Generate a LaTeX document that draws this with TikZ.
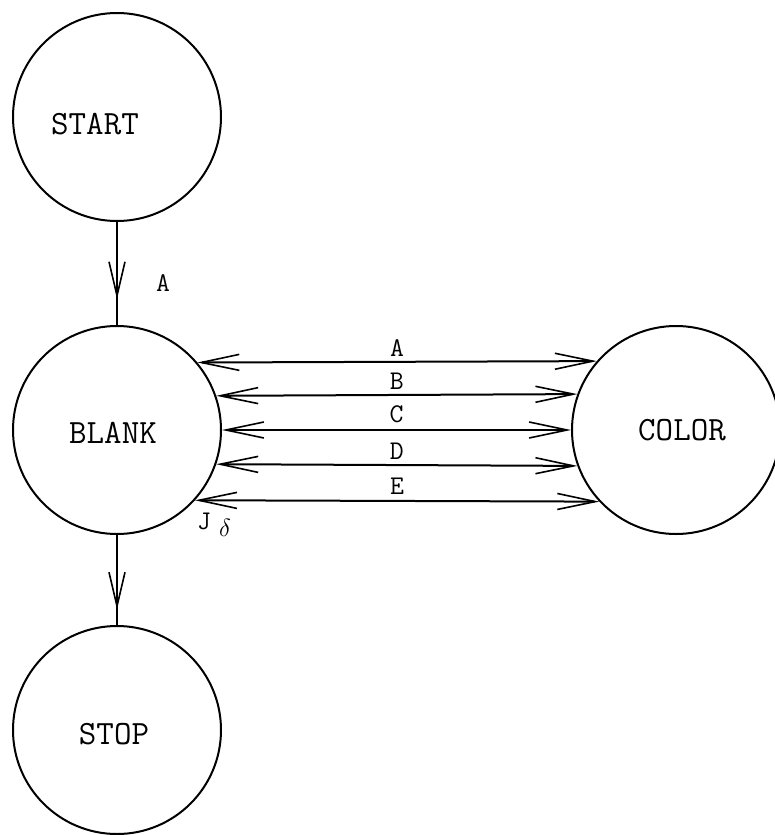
\documentclass[tikz,border=0pt]{standalone}
\usepackage{fontspec}
\usetikzlibrary{arrows.meta,decorations.markings}
\tikzset{
  state/.style={circle,draw,line width=2pt,minimum size=208pt,inner sep=0pt},
  stname/.style={font=\ttfamily\fontsize{34}{35}\selectfont,inner sep=0pt},
  lbl/.style={font=\ttfamily\fontsize{27}{28}\selectfont,inner sep=0pt},
  barb/.tip={Straight Barb[length=38pt,width=16pt,line width=1.6pt]},
  conn/.style={line width=2pt},
  dbl/.style={conn,barb-barb},
  midarrow/.style={conn,postaction={decorate},
    decoration={markings,mark=at position #1 with {\arrow{Straight Barb[length=34pt,width=16pt,line width=1.6pt]}}}}
}
\begin{document}
\begin{tikzpicture}[x=1pt,y=-1pt]
\useasboundingbox (0,0) rectangle (775,835);
\node[state] (start) at (117,117) {};
\node[state] (blank) at (117,430) {};
\node[state] (stop) at (117,730) {};
\node[state] (color) at (676,430) {};
\node[stname] (tstart) at (95,124) {START};
\node[stname] (tblank) at (113,433) {BLANK};
\node[stname] (tstop) at (114,734) {STOP};
\node[stname] (tcolor) at (682,430) {COLOR};
\draw[midarrow=0.75] (start.south) -- (blank.north);
\node[lbl] (la) at (163,283) {A};
\draw[midarrow=0.83] (blank.south) -- (stop.north);
\draw[dbl] (blank.40.8) -- node[lbl,above=4pt] (l1) {A} (color.139.2);
\draw[dbl] (blank.19.1) -- node[lbl,above=4pt] (l2) {B} (color.160.9);
\draw[dbl] (blank.0) -- node[lbl,above=6pt] (l3) {C} (color.180);
\draw[dbl] (blank.-19.7) -- node[lbl,above=5pt] (l4) {D} (color.-160.3);
\draw[dbl] (blank.-42.3) -- node[lbl,above=5pt] (l5) {E} (color.-137.7);
\node[lbl] (mj) at (204,521) {J};
\node[lbl] (md) at (225,528) {$\delta$};
\end{tikzpicture}
\end{document}
